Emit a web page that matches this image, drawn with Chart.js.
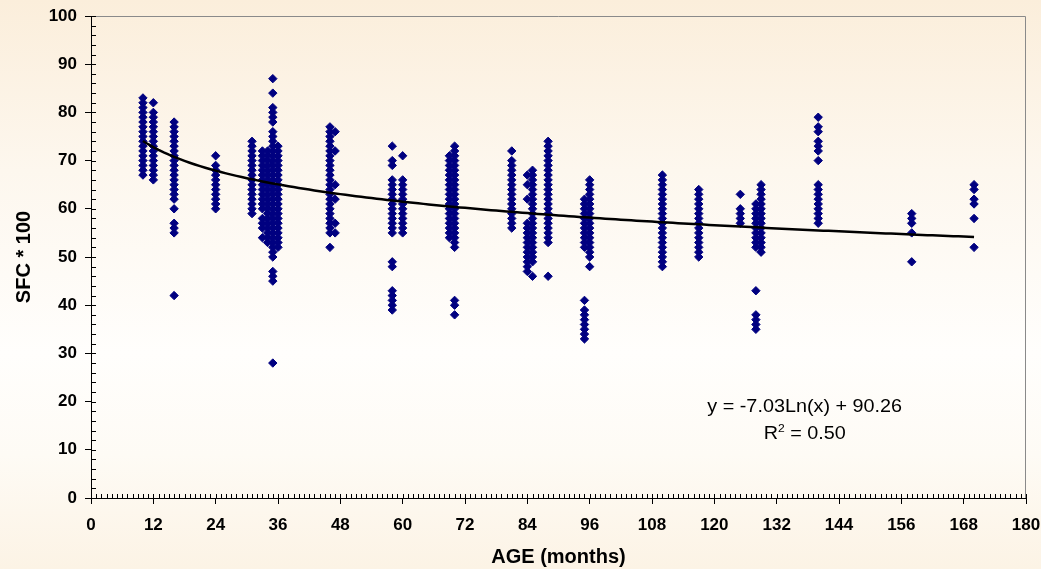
<!DOCTYPE html>
<html>
<head>
<meta charset="utf-8">
<script src="https://cdn.jsdelivr.net/npm/chart.js@4"></script>
<style>
  html, body { margin: 0; padding: 0; }
  #wrap {
    width: 1041px; height: 569px; position: relative;
    background: linear-gradient(to bottom, #fbeedb 0%, #fdf7ee 30%, #fffefc 62%, #fefbf5 80%, #fcf3e5 100%);
  }
</style>
</head>
<body>
<div id="wrap"><canvas id="sfcChart"></canvas></div>
<script>
// ages (months) of each column of measurements
const ages = [10, 12, 16, 24, 31, 33, 34, 35, 36, 46, 47, 58, 60, 69, 70, 81, 84, 85, 88, 95, 96, 110, 117, 125, 128, 129, 140, 158, 170];
// SFC * 100 values, same order as ages
const sfcByAge = [
    [67, 68, 69, 70, 71, 72, 73, 74, 75, 76, 77, 78, 79, 80, 81, 82, 83],
    [66, 67, 68, 69, 70, 71, 72, 73, 74, 75, 76, 77, 78, 79, 80, 82],
    [42, 55, 56, 57, 60, 62, 63, 64, 65, 66, 67, 68, 69, 70, 71, 72, 73, 74, 75, 76, 77, 78],
    [60, 61, 62, 63, 64, 65, 66, 67, 68, 69, 71],
    [59, 60, 61, 62, 63, 64, 65, 66, 67, 68, 69, 70, 71, 72, 73, 74],
    [54, 56, 57, 58, 60, 61, 62, 63, 64, 65, 66, 67, 68, 69, 70, 71, 72],
    [53, 54, 55, 56, 57, 58, 59, 60, 61, 62, 63, 64, 65, 66, 67, 68, 69, 70, 71, 72],
    [28, 45, 46, 47, 50, 51, 52, 53, 54, 55, 56, 57, 58, 59, 60, 61, 62, 63, 64, 65, 66, 67, 68, 69, 70, 71, 72, 73, 74, 75, 76, 78, 79, 80, 81, 84, 87],
    [52, 53, 54, 55, 56, 57, 58, 59, 60, 61, 62, 63, 64, 65, 66, 67, 68, 69, 70, 71, 72, 73],
    [52, 55, 56, 57, 58, 59, 60, 61, 62, 63, 64, 65, 66, 67, 68, 69, 70, 71, 72, 73, 74, 75, 76, 77],
    [55, 57, 62, 65, 72, 76],
    [39, 40, 41, 42, 43, 48, 49, 55, 56, 57, 58, 59, 60, 61, 62, 63, 64, 65, 66, 69, 70, 73],
    [55, 56, 57, 58, 59, 60, 61, 62, 63, 64, 65, 66, 71],
    [54, 55, 56, 57, 58, 59, 60, 61, 62, 63, 64, 65, 66, 67, 68, 69, 70, 71],
    [38, 40, 41, 52, 53, 54, 55, 56, 57, 58, 59, 60, 61, 62, 63, 64, 65, 66, 67, 68, 69, 70, 71, 72, 73],
    [56, 57, 58, 59, 60, 61, 62, 63, 64, 65, 66, 67, 68, 69, 70, 72],
    [47, 48, 49, 50, 51, 52, 53, 54, 55, 56, 57, 62, 65, 67],
    [46, 49, 50, 51, 52, 53, 54, 55, 56, 57, 58, 59, 60, 61, 62, 63, 64, 65, 66, 67, 68],
    [46, 53, 54, 55, 56, 57, 58, 59, 60, 61, 62, 63, 64, 65, 66, 67, 68, 69, 70, 71, 72, 73, 74],
    [33, 34, 35, 36, 37, 38, 39, 41, 52, 53, 54, 55, 56, 57, 58, 59, 60, 61, 62],
    [48, 50, 51, 52, 53, 54, 55, 56, 57, 58, 59, 60, 61, 62, 63, 64, 65, 66],
    [48, 49, 50, 51, 52, 53, 54, 55, 56, 57, 58, 59, 60, 61, 62, 63, 64, 65, 66, 67],
    [50, 51, 52, 53, 54, 55, 56, 57, 58, 59, 60, 61, 62, 63, 64],
    [57, 58, 59, 60, 63],
    [35, 36, 37, 38, 43, 52, 53, 54, 55, 56, 57, 58, 59, 60, 61],
    [51, 52, 53, 54, 55, 56, 57, 58, 59, 60, 61, 62, 63, 64, 65],
    [57, 58, 59, 60, 61, 62, 63, 64, 65, 70, 72, 73, 74, 76, 77, 79],
    [49, 55, 57, 58, 59],
    [52, 58, 61, 62, 64, 65]
];

// logarithmic trend line as printed on the chart: y = a*ln(x) + b
const trendA = -7.03;
const trendB = 90.26;
const trendR2 = '0.50';
const trendFrom = 10;
const trendTo = 170;

const xTickMax = 180;
const xTickStep = 12;
const yTickMax = 100;
const yTickStep = 10;

Chart.defaults.font.family = '"Liberation Sans", Arial, sans-serif';
Chart.defaults.color = '#000';

const points = [];
ages.forEach((age, i) => sfcByAge[i].forEach(v => points.push({ x: age, y: v })));

const trendPoints = [];
for (let a = trendFrom; a <= trendTo; a++) {
    trendPoints.push({ x: a, y: trendA * Math.log(a) + trendB });
}

// minor ticks, frame and the equation label
const extras = {
    id: 'extras',
    afterDraw(chart) {
        const { ctx, chartArea: area, scales: { x, y } } = chart;
        ctx.save();
        ctx.lineWidth = 1;
        ctx.strokeStyle = '#8a8a8a';
        ctx.beginPath();
        ctx.moveTo(area.left, Math.round(area.top) + 0.5);
        ctx.lineTo(Math.round(area.right) - 0.5, Math.round(area.top) + 0.5);
        ctx.lineTo(Math.round(area.right) - 0.5, area.bottom);
        ctx.stroke();

        ctx.strokeStyle = '#000';
        ctx.beginPath();
        for (let m = 0; m <= xTickMax; m++) {
            const px = Math.round(x.getPixelForValue(m)) + 0.5;
            ctx.moveTo(px, area.bottom);
            ctx.lineTo(px, area.bottom - 4);
        }
        for (let v = 0; v <= yTickMax; v += 2) {
            const py = Math.round(y.getPixelForValue(v)) + 0.5;
            ctx.moveTo(area.left, py);
            ctx.lineTo(area.left + 5, py);
        }
        ctx.stroke();

        // equation
        const cx = x.getPixelForValue(137.4);
        const y1 = y.getPixelForValue(17.9);
        const y2 = y.getPixelForValue(12.3);
        ctx.fillStyle = '#000';
        ctx.textBaseline = 'alphabetic';
        ctx.translate(cx, 0);
        ctx.scale(1.1, 1);
        ctx.font = '18px "Liberation Sans", Arial, sans-serif';
        ctx.textAlign = 'center';
        const sign = trendB >= 0 ? ' + ' : ' - ';
        ctx.fillText('y = ' + trendA.toFixed(2) + 'Ln(x)' + sign + Math.abs(trendB).toFixed(2), 0, y1);

        const rTxt = 'R';
        const supTxt = '2';
        const restTxt = ' = ' + trendR2;
        ctx.font = '18px "Liberation Sans", Arial, sans-serif';
        const wR = ctx.measureText(rTxt).width;
        const wRest = ctx.measureText(restTxt).width;
        ctx.font = '11px "Liberation Sans", Arial, sans-serif';
        const wSup = ctx.measureText(supTxt).width;
        let sx = -(wR + wSup + wRest) / 2;
        ctx.textAlign = 'left';
        ctx.font = '18px "Liberation Sans", Arial, sans-serif';
        ctx.fillText(rTxt, sx, y2);
        sx += wR;
        ctx.font = '11px "Liberation Sans", Arial, sans-serif';
        ctx.fillText(supTxt, sx, y2 - 7);
        sx += wSup;
        ctx.font = '18px "Liberation Sans", Arial, sans-serif';
        ctx.fillText(restTxt, sx, y2);
        ctx.restore();
    }
};

const ctx = document.getElementById('sfcChart').getContext('2d');
new Chart(ctx, {
    type: 'scatter',
    data: {
        datasets: [
            {
                type: 'line',
                label: 'trend',
                data: trendPoints,
                borderColor: '#000',
                borderWidth: 2.5,
                pointRadius: 0,
                fill: false,
                tension: 0
            },
            {
                label: 'SFC',
                data: points,
                pointStyle: 'rectRot',
                pointRadius: 4.2,
                pointBackgroundColor: '#000080',
                pointBorderColor: '#000080',
                pointBorderWidth: 1
            }
        ]
    },
    options: {
        responsive: true,
        maintainAspectRatio: false,
        animation: false,
        layout: { padding: { top: 16, right: 15, left: 0, bottom: 0 } },
        plugins: { legend: { display: false }, tooltip: { enabled: false } },
        scales: {
            x: {
                type: 'linear',
                min: 0, max: xTickMax,
                afterFit: s => { s.height = 71; s.paddingLeft = 0; s.paddingRight = 0; },
                ticks: { stepSize: xTickStep, padding: 11, font: { size: 17, weight: 'bold' } },
                grid: { display: true, drawOnChartArea: false, drawTicks: true, tickLength: 6, color: '#000' },
                border: { display: true, color: '#000', width: 1 },
                title: { display: true, text: 'AGE (months)', padding: { top: 0, bottom: 0 }, font: { size: 20, weight: 'bold' } }
            },
            y: {
                min: 0, max: yTickMax,
                afterFit: s => { s.width = 91; s.paddingTop = 0; s.paddingBottom = 0; },
                ticks: { stepSize: yTickStep, padding: 8, font: { size: 17, weight: 'bold' } },
                grid: { display: true, drawOnChartArea: false, drawTicks: true, tickLength: 6, color: '#000' },
                border: { display: true, color: '#000', width: 1 },
                title: { display: true, text: 'SFC * 100', padding: { top: 12, bottom: 0 }, font: { size: 20, weight: 'bold' } }
            }
        }
    },
    plugins: [extras]
});
</script>
</body>
</html>
